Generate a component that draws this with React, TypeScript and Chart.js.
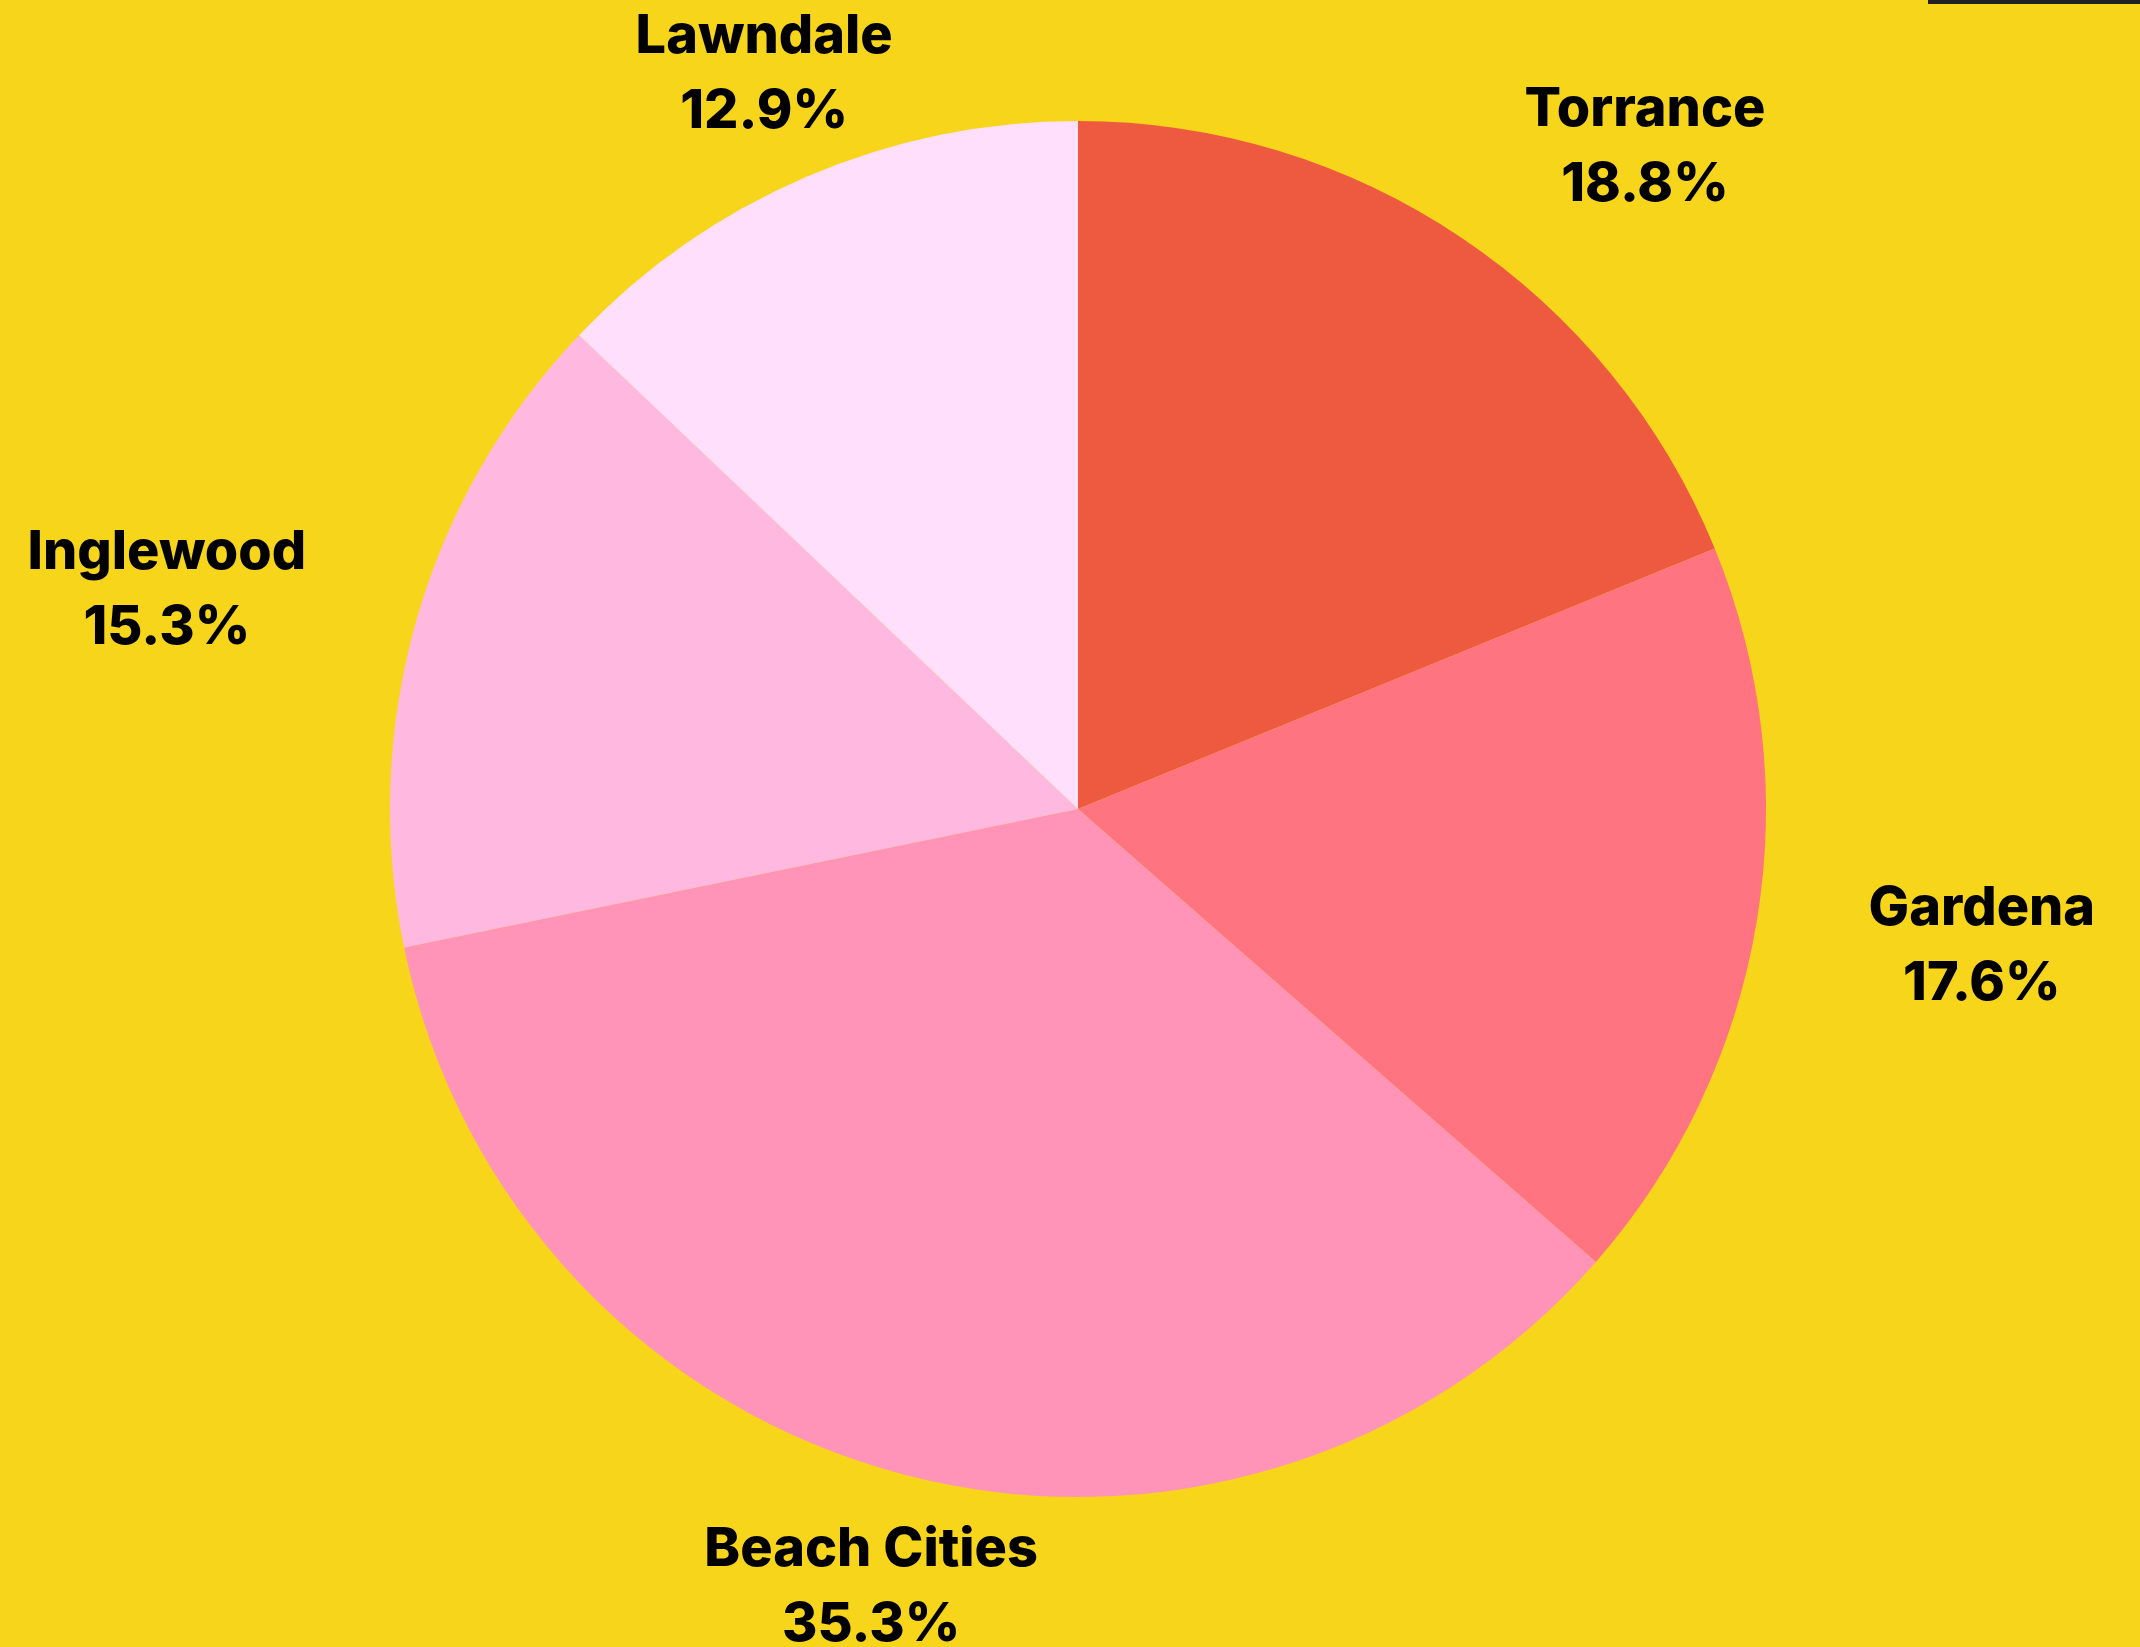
import React, { useEffect, useRef } from "react";
import { Chart, registerables } from "chart.js";

Chart.register(...registerables);

const categories = ["Torrance", "Gardena", "Beach Cities", "Inglewood", "Lawndale"];
const shares = [18.8, 17.6, 35.3, 15.3, 12.9];
const sliceColors = ["#EE5A3F", "#FF7480", "#FF94B8", "#FFB8E0", "#FFDFFB"];
const shareLabels = ["18.8%", "17.6%", "35.3%", "15.3%", "12.9%"];

// label placement tuning (label offsets from a radial anchor)
const labelNudges: [number, number][] = [
  [80, 63],
  [42, -7],
  [16, -67],
  [-71, 21],
  [31, 68],
];

const labelPlugin = {
  id: "sliceLabels",
  afterDatasetsDraw(chart: any) {
    const ctx = chart.ctx;
    const meta = chart.getDatasetMeta(0);
    ctx.save();
    ctx.fillStyle = "#000";
    ctx.font = "800 54px Inter, 'Noto Sans', sans-serif";
    ctx.textAlign = "center";
    ctx.textBaseline = "middle";
    meta.data.forEach((arc: any, i: number) => {
      const { x, y, startAngle, endAngle, outerRadius } = arc.getProps(
        ["x", "y", "startAngle", "endAngle", "outerRadius"],
        true
      );
      const mid = (startAngle + endAngle) / 2;
      const d = outerRadius * 1.27;
      const cx = x + Math.cos(mid) * d + labelNudges[i][0];
      const cy = y + Math.sin(mid) * d + labelNudges[i][1];
      ctx.fillText(categories[i], cx, cy - 37);
      ctx.fillText(shareLabels[i], cx, cy + 38);
    });
    ctx.restore();
  },
};

export default function App() {
  const ref = useRef<HTMLCanvasElement | null>(null);
  useEffect(() => {
    document.body.style.margin = "0";
    document.body.style.background = "#F7D51A";
    const chart = new Chart(ref.current!, {
      type: "pie",
      data: {
        labels: categories,
        datasets: [
          {
            data: shares,
            backgroundColor: sliceColors,
            borderWidth: 0,
          },
        ],
      },
      options: {
        responsive: false,
        animation: false,
        layout: { padding: { top: 121, bottom: 150, left: 390, right: 374 } },
        plugins: {
          legend: { display: false },
          tooltip: { enabled: false },
        },
      },
      plugins: [labelPlugin],
    });
    return () => chart.destroy();
  }, []);
  return (
    <div style={{ position: "relative", width: 2140, height: 1647, background: "#F7D51A", overflow: "hidden" }}>
      <canvas ref={ref} width={2140} height={1647} style={{ display: "block" }} />
      <div style={{ position: "absolute", left: 1928, top: 0, width: 212, height: 4, background: "#222222" }} />
    </div>
  );
}
